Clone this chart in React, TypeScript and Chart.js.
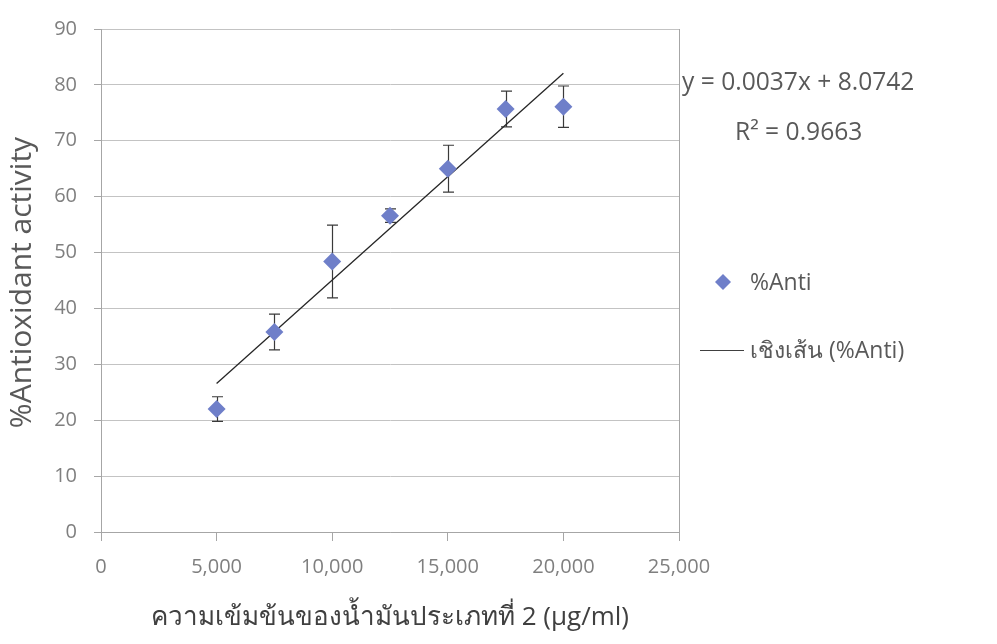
import { useEffect, useRef } from "react";
import { Chart, registerables } from "chart.js";

Chart.register(...registerables);

// Concentration of oil type 2 (µg/ml) and measured antioxidant activity (%)
const concentrations = [5000, 7500, 10000, 12500, 15000, 17500, 20000];
const antiValues = [22.0, 35.8, 48.4, 56.6, 65.0, 75.7, 76.1];
const antiErrors = [2.2, 3.2, 6.5, 1.2, 4.2, 3.2, 3.7];

// Linear trendline fitted to the series
const trendSlope = 0.0037;
const trendIntercept = 8.0742;
const rSquared = 0.9663;

const xTickValues = [0, 5000, 10000, 15000, 20000, 25000];
const yTickValues = [0, 10, 20, 30, 40, 50, 60, 70, 80, 90];

const seriesLabel = "%Anti";
const trendLabel = "เชิงเส้น (%Anti)";
const xTitle = "ความเข้มข้นของน้ำมันประเภทที่ 2 (µg/ml)";
const yTitle = "%Antioxidant activity";

const FONT = '"Open Sans", "Noto Sans", sans-serif';
const MARKER = "#6f7fc9";
const GRID = "#c3c3c3";
const AXIS = "#a6a6a6";
const TEXT = "#595959";

const errorBarsPlugin = {
  id: "errorBars",
  beforeDatasetsDraw(chart: any) {
    const { ctx, scales } = chart;
    const xs = scales.x;
    const ys = scales.y;
    ctx.save();
    ctx.strokeStyle = "#3a3a3a";
    ctx.lineWidth = 1.2;
    concentrations.forEach((c, i) => {
      const px = Math.round(xs.getPixelForValue(c)) + 0.5;
      const top = ys.getPixelForValue(antiValues[i] + antiErrors[i]);
      const bot = ys.getPixelForValue(antiValues[i] - antiErrors[i]);
      ctx.beginPath();
      ctx.moveTo(px, top);
      ctx.lineTo(px, bot);
      ctx.moveTo(px - 5.5, top);
      ctx.lineTo(px + 5.5, top);
      ctx.moveTo(px - 5.5, bot);
      ctx.lineTo(px + 5.5, bot);
      ctx.stroke();
    });
    ctx.restore();
  },
};

const annotationsPlugin = {
  id: "annotations",
  afterDraw(chart: any) {
    const { ctx, chartArea } = chart;
    ctx.save();
    // y-axis title, centred on the plot area
    ctx.fillStyle = TEXT;
    ctx.font = `30px ${FONT}`;
    ctx.textAlign = "center";
    ctx.textBaseline = "middle";
    ctx.translate(22, (chartArea.top + chartArea.bottom) / 2 + 2);
    ctx.rotate(-Math.PI / 2);
    ctx.fillText(yTitle, 0, 0);
    ctx.restore();

    ctx.save();
    ctx.fillStyle = TEXT;
    ctx.textBaseline = "middle";
    ctx.textAlign = "left";
    ctx.font = `24.6px ${FONT}`;
    ctx.fillText(`y = ${trendSlope}x + ${trendIntercept}`, 682, 83);
    ctx.fillText(`R² = ${rSquared}`, 735, 133);

    // legend: marker entry
    const dx = 723;
    const dy = 282;
    const r = 8;
    ctx.fillStyle = MARKER;
    ctx.beginPath();
    ctx.moveTo(dx, dy - r);
    ctx.lineTo(dx + r, dy);
    ctx.lineTo(dx, dy + r);
    ctx.lineTo(dx - r, dy);
    ctx.closePath();
    ctx.fill();
    ctx.fillStyle = TEXT;
    ctx.font = `23px ${FONT}`;
    ctx.fillText(seriesLabel, 750, 283);

    // legend: trendline entry
    ctx.strokeStyle = "#404040";
    ctx.lineWidth = 1.2;
    ctx.beginPath();
    ctx.moveTo(700, 350.5);
    ctx.lineTo(744, 350.5);
    ctx.stroke();
    ctx.fillText(trendLabel, 750, 351);
    ctx.restore();
  },
};

export default function App() {
  const canvasRef = useRef<HTMLCanvasElement | null>(null);

  useEffect(() => {
    const canvas = canvasRef.current;
    if (!canvas) return;

    const xMin = Math.min(...concentrations);
    const xMax = Math.max(...concentrations);
    const trendPoints = [xMin, xMax].map((x) => ({ x, y: trendSlope * x + trendIntercept }));

    const chart = new Chart(canvas, {
      type: "scatter",
      data: {
        datasets: [
          {
            label: seriesLabel,
            data: concentrations.map((x, i) => ({ x, y: antiValues[i] })),
            pointStyle: "rectRot",
            pointRadius: 9,
            pointHoverRadius: 9,
            backgroundColor: MARKER,
            borderColor: MARKER,
            borderWidth: 0,
            order: 0,
          },
          {
            type: "line",
            label: trendLabel,
            data: trendPoints,
            borderColor: "#262626",
            borderWidth: 1.3,
            pointRadius: 0,
            fill: false,
            order: 1,
          } as any,
        ],
      },
      options: {
        responsive: false,
        animation: false,
        devicePixelRatio: 1,
        layout: { padding: { left: 0, top: 17, right: 318, bottom: 0 } },
        plugins: {
          legend: { display: false },
          tooltip: { enabled: false },
        },
        scales: {
          x: {
            type: "linear",
            min: 0,
            max: 25000,
            afterBuildTicks: (scale: any) => {
              scale.ticks = xTickValues.map((value) => ({ value }));
            },
            afterFit: (scale: any) => {
              scale.height = 112;
            },
            ticks: {
              color: "#7f7f7f",
              font: { family: FONT, size: 20 },
              padding: 14,
              maxRotation: 0,
              callback: (v: any) => Number(v).toLocaleString("en-US"),
            },
            grid: {
              color: (c: any) => (c.tick && c.tick.value === 25000 ? AXIS : "rgba(0,0,0,0)"),
              tickColor: AXIS,
              tickLength: 9,
              lineWidth: 1,
            },
            border: { display: true, color: AXIS, width: 1 },
            title: {
              display: true,
              text: xTitle,
              color: "#404040",
              font: { family: FONT, size: 26 },
              padding: { top: 0, bottom: 11 },
            },
          },
          y: {
            type: "linear",
            min: 0,
            max: 90,
            afterBuildTicks: (scale: any) => {
              scale.ticks = yTickValues.map((value) => ({ value }));
            },
            afterFit: (scale: any) => {
              scale.width = 101;
            },
            ticks: {
              color: "#7f7f7f",
              font: { family: FONT, size: 20 },
              padding: 17,
            },
            grid: {
              color: GRID,
              tickColor: AXIS,
              tickLength: 7,
              lineWidth: 1,
            },
            border: { display: true, color: AXIS, width: 1 },
          },
        },
      },
      plugins: [errorBarsPlugin, annotationsPlugin],
    });

    return () => chart.destroy();
  }, []);

  return (
    <div style={{ position: "absolute", left: 0, top: 0, width: 997, height: 644, background: "#fff" }}>
      <canvas ref={canvasRef} width={997} height={644} />
    </div>
  );
}
